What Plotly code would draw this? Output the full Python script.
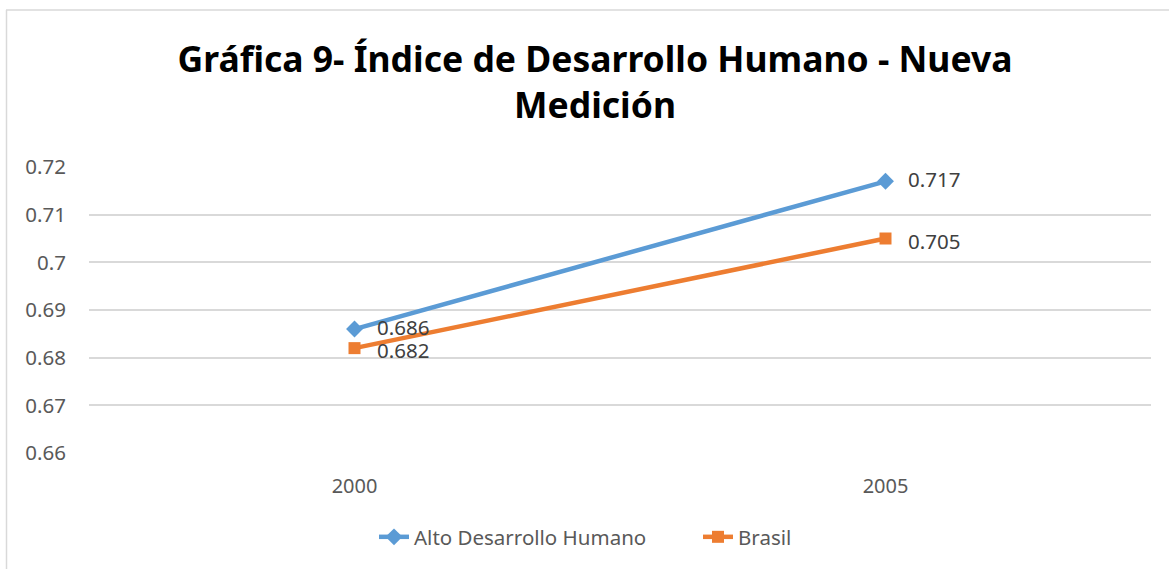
import plotly.graph_objects as go

years = ["2000", "2005"]
alto = [0.686, 0.717]
brasil = [0.682, 0.705]
y_ticks = [0.66, 0.67, 0.68, 0.69, 0.70, 0.71, 0.72]
y_tick_labels = ["0.66", "0.67", "0.68", "0.69", "0.7", "0.71", "0.72"]

W, H = 1169, 569
L, R, T, B = 89, 18, 167, 116
pw = W - L - R
ph = H - T - B

def px_x(x):
    return (x - L) / pw

def px_y(y):
    return (H - B - y) / ph

fig = go.Figure()
fig.add_trace(go.Scatter(
    x=years, y=alto, name="Alto Desarrollo Humano", mode="lines+markers",
    line=dict(color="#5B9BD5", width=4.5),
    marker=dict(symbol="diamond", size=13, color="#5B9BD5"),
    cliponaxis=False,
))
fig.add_trace(go.Scatter(
    x=years, y=brasil, name="Brasil", mode="lines+markers",
    line=dict(color="#ED7D31", width=4.5),
    marker=dict(symbol="square", size=12, color="#ED7D31"),
    cliponaxis=False,
))

annotations = []
for series, dy in ((alto, 2), (brasil, -2)):
    for i, yv in enumerate(series):
        annotations.append(dict(
            x=i, y=yv, xref="x", yref="y", text=f"{yv:.3f}", showarrow=False,
            xanchor="left", yanchor="middle", xshift=20, yshift=dy,
            font=dict(size=20.5, color="#404040", family="Noto Sans"),
        ))

fig.update_layout(
    width=W, height=H,
    margin=dict(l=L, r=R, t=T, b=B),
    paper_bgcolor="white", plot_bgcolor="white",
    font=dict(family="Noto Sans", color="#595959", size=20),
    title=dict(
        text="<b>Gráfica 9- Índice de Desarrollo Humano - Nueva<br>Medición</b>",
        x=0.509, xanchor="center", y=1 - 72 / H, yanchor="middle",
        font=dict(size=35.5, color="#000000", family="Noto Sans"),
    ),
    showlegend=True,
    legend=dict(
        orientation="h", x=px_x(374), xanchor="left", y=px_y(537), yanchor="middle",
        font=dict(size=20.5, color="#595959"), entrywidth=279, entrywidthmode="pixels",
    ),
    annotations=annotations,
    xaxis=dict(
        type="category", range=[-0.5, 1.5], showgrid=False, showline=False,
        ticks="", tickfont=dict(size=20, color="#595959"), ticklabelstandoff=19,
    ),
    yaxis=dict(
        range=[0.66, 0.72], tickvals=y_ticks, ticktext=y_tick_labels,
        showgrid=True, gridcolor="#D9D9D9", gridwidth=1.5, zeroline=False,
        showline=False, ticks="", tickfont=dict(size=20.5, color="#595959"),
        ticklabelstandoff=22,
    ),
    shapes=[
        dict(type="line", xref="paper", yref="paper", x0=px_x(6), x1=px_x(W + 5),
             y0=px_y(10), y1=px_y(10), line=dict(color="#D9D9D9", width=1.5)),
        dict(type="line", xref="paper", yref="paper", x0=px_x(6.5), x1=px_x(6.5),
             y0=px_y(10), y1=px_y(H + 5), line=dict(color="#D9D9D9", width=1.5)),
    ],
)

fig.write_html("out.html", config={"displayModeBar": False},
               post_script="document.body.style.margin='0';")
